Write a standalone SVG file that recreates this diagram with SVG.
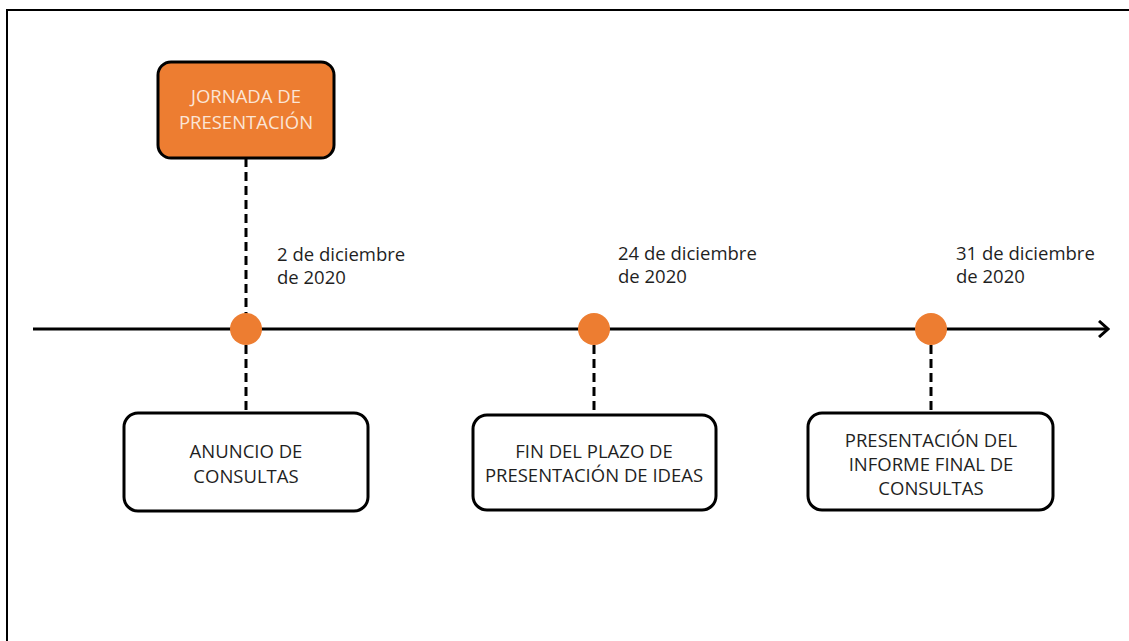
<svg xmlns="http://www.w3.org/2000/svg" width="1129" height="641" viewBox="0 0 1129 641">
<defs>
<style>
.t{font-family:"Open Sans","Noto Sans","Liberation Sans",sans-serif;font-size:18.5px;fill:#1f1f1f}
.c{text-anchor:middle}
.box{fill:#fff;stroke:#000;stroke-width:3}
.dash{stroke:#000;stroke-width:3;stroke-dasharray:9 5;fill:none}
.dot{fill:#ED7D31}
</style>
<marker id="arr" markerWidth="12" markerHeight="18" refX="10" refY="9" orient="auto" markerUnits="userSpaceOnUse">
<path d="M1,1 L10,9 L1,17" fill="none" stroke="#000" stroke-width="3"/>
</marker>
</defs>
<rect width="1129" height="641" fill="#fff"/>
<g id="frame">
<path d="M7,641 V10 H1129" fill="none" stroke="#000" stroke-width="2"/>
</g>
<g id="connectors">
<line x1="33" y1="329" x2="1108" y2="329" stroke="#000" stroke-width="3" marker-end="url(#arr)"/>
<line class="dash" x1="246" y1="158" x2="246" y2="314"/>
<line class="dash" x1="246" y1="345" x2="246" y2="413"/>
<line class="dash" x1="594" y1="345" x2="594" y2="415"/>
<line class="dash" x1="931" y1="345" x2="931" y2="413"/>
</g>
<g id="dot1"><circle class="dot" cx="246" cy="329" r="16"/></g>
<g id="dot2"><circle class="dot" cx="594" cy="329" r="16"/></g>
<g id="dot3"><circle class="dot" cx="931" cy="329" r="16"/></g>
<g id="jornada">
<rect x="158" y="62" width="176" height="96" rx="13" fill="#ED7D31" stroke="#000" stroke-width="3"/>
<text class="t c" x="246" y="103" style="fill:#FBE5D6">JORNADA DE</text>
<text class="t c" x="246" y="129" style="fill:#FBE5D6">PRESENTACIÓN</text>
</g>
<g id="date1">
<text class="t" x="277" y="261">2 de diciembre</text>
<text class="t" x="277" y="284">de 2020</text>
</g>
<g id="date2">
<text class="t" x="618" y="260">24 de diciembre</text>
<text class="t" x="618" y="283">de 2020</text>
</g>
<g id="date3">
<text class="t" x="956" y="260">31 de diciembre</text>
<text class="t" x="956" y="283">de 2020</text>
</g>
<g id="anuncio">
<rect class="box" x="124" y="413" width="244" height="98" rx="14"/>
<text class="t c" x="246" y="458">ANUNCIO DE</text>
<text class="t c" x="246" y="483">CONSULTAS</text>
</g>
<g id="fin">
<rect class="box" x="473" y="415" width="243" height="95" rx="14"/>
<text class="t c" x="594" y="458">FIN DEL PLAZO DE</text>
<text class="t c" x="594" y="482">PRESENTACIÓN DE IDEAS</text>
</g>
<g id="informe">
<rect class="box" x="808" y="413" width="245" height="97" rx="14"/>
<text class="t c" x="931" y="447">PRESENTACIÓN DEL</text>
<text class="t c" x="931" y="471">INFORME FINAL DE</text>
<text class="t c" x="931" y="495">CONSULTAS</text>
</g>
</svg>
